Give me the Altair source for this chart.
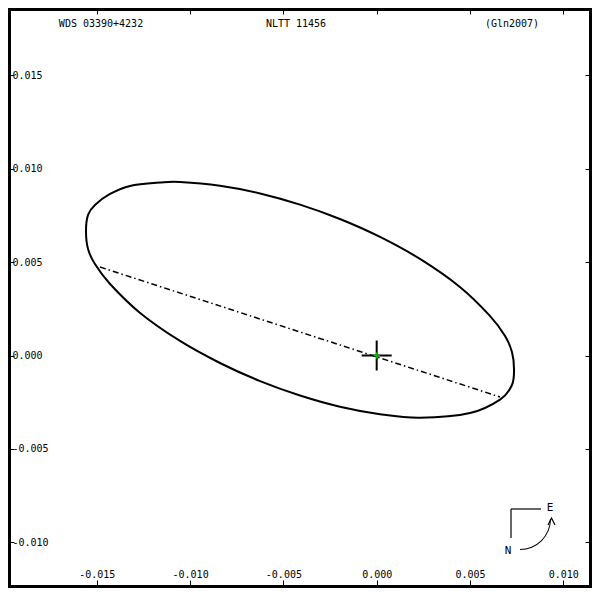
import math
import altair as alt
import pandas as pd

# ---- data (arcsec) ----
orbit_x = [-0.01558, -0.01547, -0.01510, -0.01429, -0.01322, -0.01161, -0.01054,
           -0.00840, -0.00625, -0.00411, -0.00197, 0.00018, 0.00232, 0.00446,
           0.00607, 0.00688, 0.00725, 0.00736, 0.00725, 0.00661, 0.00500,
           0.00232, 0.00018, -0.00197, -0.00411, -0.00625, -0.00840, -0.01054,
           -0.01268, -0.01429, -0.01510, -0.01547]
orbit_y = [0.00667, 0.00753, 0.00806, 0.00865, 0.00908, 0.00926, 0.00929,
           0.00909, 0.00868, 0.00808, 0.00731, 0.00635, 0.00517, 0.00367,
           0.00212, 0.00104, 0.00019, -0.00072, -0.00158, -0.00236, -0.00308,
           -0.00333, -0.00314, -0.00274, -0.00214, -0.00137, -0.00040, 0.00078,
           0.00228, 0.00383, 0.00490, 0.00570]
node_x = [-0.01483, 0.00661]
node_y = [0.00474, -0.00222]
primary_x = [0.0]
primary_y = [0.0]
x_ticks = [-0.015, -0.010, -0.005, 0.0, 0.005, 0.010]
y_ticks = [-0.010, -0.005, 0.0, 0.005, 0.010, 0.015]
x_domain = [-0.01976, 0.01154]
y_domain = [-0.01245, 0.01861]
header = ["WDS 03390+4232", "NLTT 11456", "(Gln2007)"]

FONT = "DejaVu Sans Mono"
W, H = 584, 580

orbit_df = pd.DataFrame({"x": orbit_x, "y": orbit_y, "i": list(range(len(orbit_x)))})
node_df = pd.DataFrame({"x": node_x, "y": node_y})
prim_df = pd.DataFrame({"x": primary_x, "y": primary_y})

xs = alt.Scale(domain=x_domain, nice=False, zero=False)
ys = alt.Scale(domain=y_domain, nice=False, zero=False)
lab_expr = "datum.value < 0 ? '-' + format(-datum.value, '.3f') : format(datum.value, '.3f')"

common = dict(domain=False, grid=False, title=None, tickColor="black", tickWidth=1,
              labelFont=FONT, labelFontSize=10, labelColor="black",
              labelFlush=False, labelOverlap=False)

x_bottom = alt.Axis(orient="bottom", values=x_ticks, offset=-8, tickSize=8,
                    labelPadding=-14, labelBaseline="middle", labelExpr=lab_expr, **common)
y_left = alt.Axis(orient="left", values=y_ticks, offset=-6, tickSize=6,
                  labelPadding=-4, labelAlign="left", labelBaseline="middle",
                  labelExpr=lab_expr, **common)
x_top = alt.Axis(orient="top", values=x_ticks, offset=-6, tickSize=6, labels=False, **common)
y_right = alt.Axis(orient="right", values=y_ticks, offset=-7, tickSize=7, labels=False, **common)

orbit = alt.Chart(orbit_df).mark_line(
    interpolate="cardinal-closed", color="black", strokeWidth=2
).encode(
    x=alt.X("x:Q", scale=xs, axis=x_bottom),
    y=alt.Y("y:Q", scale=ys, axis=y_left),
    order="i:Q",
)

nodes = alt.Chart(node_df).mark_line(
    color="black", strokeWidth=1.5, strokeDash=[6, 3, 1.5, 3]
).encode(
    x=alt.X("x:Q", scale=xs, axis=x_top),
    y=alt.Y("y:Q", scale=ys, axis=y_right),
)

plus = "M-1,0L1,0M0,-1L0,1"
cross_big = alt.Chart(prim_df).mark_point(
    shape=plus, size=900, filled=False, color="black", strokeWidth=2, opacity=1
).encode(x=alt.X("x:Q", scale=xs, axis=None), y=alt.Y("y:Q", scale=ys, axis=None))
cross_small = alt.Chart(prim_df).mark_point(
    shape=plus, size=36, filled=False, color="#00c000", strokeWidth=1.5, opacity=1
).encode(x=alt.X("x:Q", scale=xs, axis=None), y=alt.Y("y:Q", scale=ys, axis=None))

blank = pd.DataFrame({"a": [0]})

def label(txt, x, y, size=10):
    return alt.Chart(blank).mark_text(
        text=txt, font=FONT, fontSize=size, color="black", align="center", baseline="middle"
    ).encode(x=alt.value(x), y=alt.value(y))

headers = [label(header[0], 93, 16), label(header[1], 288, 16), label(header[2], 504, 16)]

# compass
c_h = alt.Chart(blank).mark_rule(color="black", strokeWidth=1.2).encode(
    x=alt.value(503), x2=alt.value(533), y=alt.value(501))
c_v = alt.Chart(blank).mark_rule(color="black", strokeWidth=1.2).encode(
    x=alt.value(503), y=alt.value(501), y2=alt.value(530))
c_arc = alt.Chart(blank).mark_arc(
    radius=31, radius2=30, theta=math.pi / 2, theta2=math.pi, color="black"
).encode(x=alt.value(512), y=alt.value(511))
c_head = alt.Chart(blank).mark_point(
    shape="M-1,1L0,-1L1,1", size=49, filled=False, color="black", strokeWidth=1.2, opacity=1
).encode(x=alt.value(543.5), y=alt.value(513.5))
c_e = label("E", 542, 500, 11)
c_n = label("N", 500, 543, 11)

chart = alt.layer(
    orbit, nodes, cross_big, cross_small, *headers, c_h, c_v, c_arc, c_head, c_e, c_n
).resolve_axis(x="independent", y="independent").properties(
    width=W, height=H, padding=0, autosize=alt.AutoSizeParams(type="none")
).configure_view(stroke="black", strokeWidth=6)

chart.save("out.html", embed_options={"renderer": "svg", "actions": False})
